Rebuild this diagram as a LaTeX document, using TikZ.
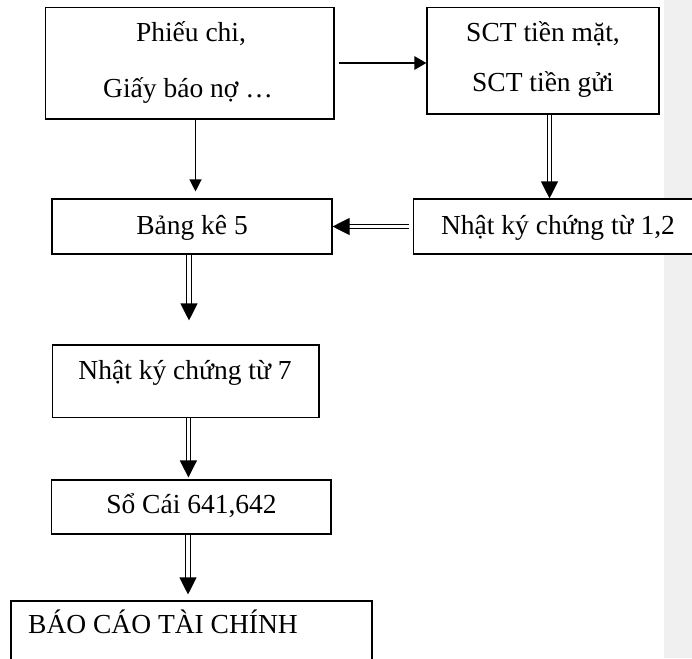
\documentclass[tikz,border=0pt]{standalone}
\usepackage{fontspec}
\setmainfont{Liberation Serif}
\usetikzlibrary{arrows.meta,calc}
\definecolor{sidegray}{RGB}{240,240,240}
\tikzset{
  box/.style={draw=black, line width=1.1pt, fill=white, rectangle, inner sep=0pt},
  txt/.style={inner sep=0pt, font=\fontsize{27.5}{33}\selectfont, anchor=base},
  thinarrow/.style={draw=black, line width=1.3pt, -{Triangle[length=12pt,width=12pt]}},
  boldarrow/.style={draw=black, line width=2.6pt, -{Triangle[length=12pt,width=13pt]}},
  dblarrow/.style={draw=black, line width=1.1pt, double=white, double distance=3.2pt,
    -{Triangle[length=17pt,width=17pt]}},
}
\begin{document}
\begin{tikzpicture}[x=1pt,y=-1pt]
  \useasboundingbox (0,0) rectangle (692,658);
  \clip (0,0) rectangle (692,658);
  % grey margin strip on the right
  \fill[sidegray] (664,0) rectangle (692,658);

  % boxes
  \node[box, minimum width=288.5pt, minimum height=111.4pt] (phieu) at (189.75,63.3) {};
  \node[box, minimum width=232pt, minimum height=106.4pt] (sct) at (543,60.8) {};
  \node[box, minimum width=280pt, minimum height=55pt] (bang) at (192,226.5) {};
  \node[box, minimum width=290pt, minimum height=55pt] (nk12) at (558.5,226.5) {};
  \node[box, minimum width=266.5pt, minimum height=72.5pt] (nk7) at (185.75,381.25) {};
  \node[box, minimum width=279.4pt, minimum height=54pt] (socai) at (191.3,507) {};
  \node[box, minimum width=361pt, minimum height=79pt] (baocao) at (191.5,640.5) {};

  % labels
  \node[txt] (t1) at (191,42) {Phiếu chi,};
  \node[txt] (t2) at (188,97) {Giấy báo nợ …};
  \node[txt] (t3) at (543,42) {SCT tiền mặt,};
  \node[txt] (t4) at (543,92) {SCT tiền gửi};
  \node[txt] (t5) at (192,234) {Bảng kê 5};
  \node[txt] (t6) at (558,234) {Nhật ký chứng từ 1,2};
  \node[txt] (t7) at (185,379) {Nhật ký chứng từ 7};
  \node[txt] (t8) at (191.5,513) {Sổ Cái 641,642};
  \node[txt, anchor=base west] (t9) at (28,633) {BÁO CÁO TÀI CHÍNH};

  % guide positions for the connectors
  \coordinate (c1) at (195.5,0);
  \coordinate (c2) at (0,63);
  \coordinate (c3) at (549.5,0);
  \coordinate (c4) at (189,0);
  \coordinate (c5) at (188.4,0);
  \coordinate (c6) at (188,0);

  % connectors
  \draw[thinarrow, shorten >=7pt] (phieu.south -| c1) -- (bang.north -| c1);
  \draw[boldarrow, shorten <=4.5pt] (phieu.east |- c2) -- (sct.west |- c2);
  \draw[dblarrow] (sct.south -| c3) -- (nk12.north -| c3);
  \draw[dblarrow, shorten <=3.5pt] (nk12.west) -- (bang.east);
  \draw[dblarrow, shorten >=24pt] (bang.south -| c4) -- (nk7.north -| c4);
  \draw[dblarrow, shorten >=2pt] (nk7.south -| c5) -- (socai.north -| c5);
  \draw[dblarrow, shorten >=6pt] (socai.south -| c6) -- (baocao.north -| c6);
\end{tikzpicture}
\end{document}
